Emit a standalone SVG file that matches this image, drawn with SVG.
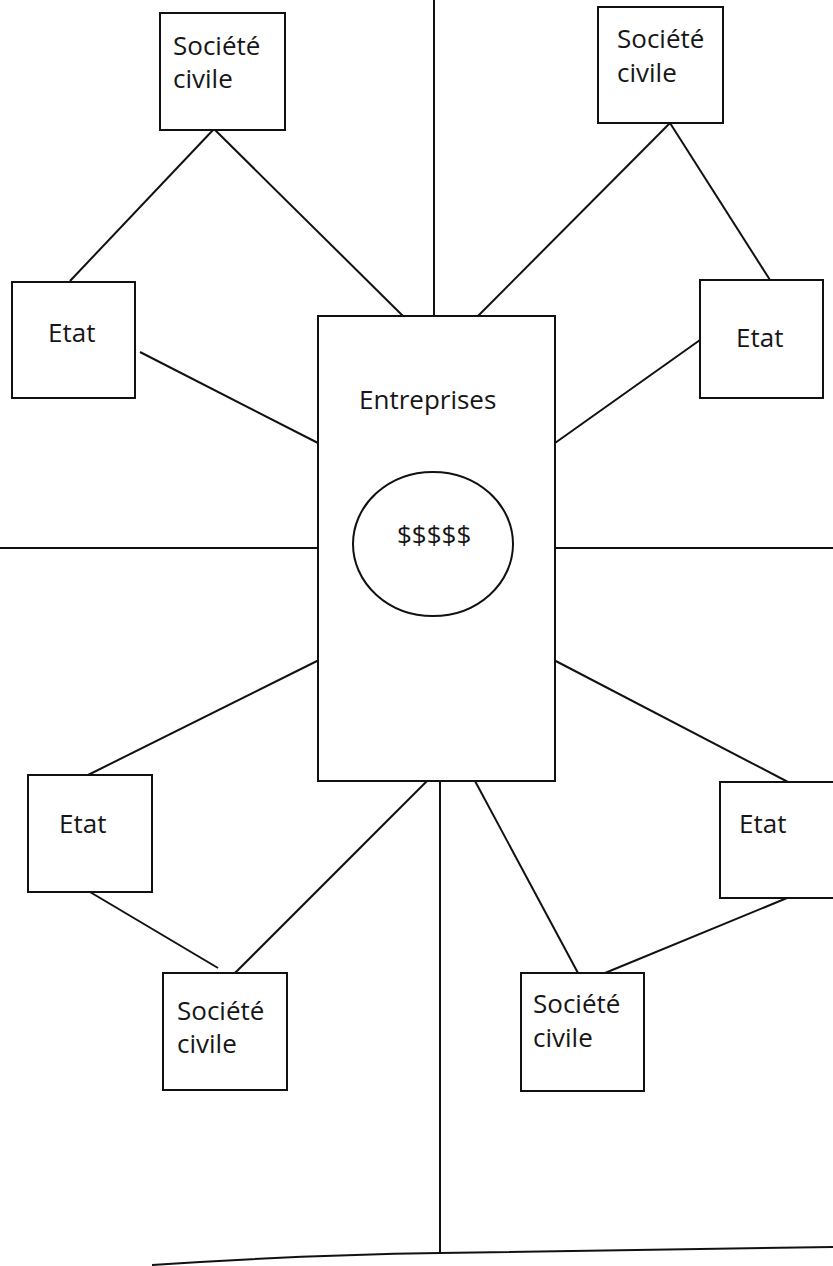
<svg xmlns="http://www.w3.org/2000/svg" width="833" height="1266" viewBox="0 0 833 1266">
<style>
.box{fill:#fff;stroke:#111;stroke-width:2}
.ln{fill:none;stroke:#111;stroke-width:2}
.t{font-family:"Open Sans","Liberation Sans",sans-serif;font-size:26px;fill:#161616}
</style>
<rect width="833" height="1266" fill="#fff"/>
<g id="connectors">
<line class="ln" x1="434" y1="0" x2="434" y2="316"/>
<line class="ln" x1="0" y1="548" x2="318" y2="548"/>
<line class="ln" x1="555" y1="548" x2="833" y2="548"/>
<line class="ln" x1="440" y1="781" x2="440" y2="1253"/>
<path class="ln" d="M152,1265 Q300,1255 440,1253 T833,1247"/>
<line class="ln" x1="210" y1="125" x2="403" y2="316"/>
<line class="ln" x1="213" y1="130" x2="70" y2="281"/>
<line class="ln" x1="140" y1="352" x2="318" y2="443"/>
<line class="ln" x1="670" y1="123" x2="478" y2="316"/>
<line class="ln" x1="670" y1="123" x2="770" y2="280"/>
<line class="ln" x1="700" y1="340" x2="555" y2="443"/>
<line class="ln" x1="319" y1="660" x2="88" y2="775"/>
<line class="ln" x1="90" y1="892" x2="218" y2="968"/>
<line class="ln" x1="235" y1="973" x2="427" y2="781"/>
<line class="ln" x1="550" y1="658" x2="788" y2="782"/>
<line class="ln" x1="475" y1="781" x2="578" y2="973"/>
<line class="ln" x1="787" y1="898" x2="605" y2="973"/>
</g>
<g id="entreprises">
<rect class="box" x="318" y="316" width="237" height="465"/>
<text class="t" x="359" y="409" font-size="25.5">Entreprises</text>
<ellipse class="ln" cx="433" cy="544" rx="80" ry="72"/>
<text class="t" x="397" y="544" font-size="29">$$$$$</text>
</g>
<g id="societe-tl">
<rect class="box" x="160" y="13" width="125" height="117"/>
<text class="t" x="173" y="55">Société</text>
<text class="t" x="173" y="88">civile</text>
</g>
<g id="etat-tl">
<rect class="box" x="12" y="282" width="123" height="116"/>
<text class="t" x="48" y="342">Etat</text>
</g>
<g id="societe-tr">
<rect class="box" x="598" y="7" width="125" height="116"/>
<text class="t" x="617" y="48">Société</text>
<text class="t" x="617" y="82">civile</text>
</g>
<g id="etat-tr">
<rect class="box" x="700" y="280" width="123" height="118"/>
<text class="t" x="736" y="347">Etat</text>
</g>
<g id="etat-bl">
<rect class="box" x="28" y="775" width="124" height="117"/>
<text class="t" x="59" y="833">Etat</text>
</g>
<g id="societe-bl">
<rect class="box" x="163" y="973" width="124" height="117"/>
<text class="t" x="177" y="1020">Société</text>
<text class="t" x="177" y="1053">civile</text>
</g>
<g id="etat-br">
<rect class="box" x="720" y="782" width="120" height="116"/>
<text class="t" x="739" y="833">Etat</text>
</g>
<g id="societe-br">
<rect class="box" x="521" y="973" width="123" height="118"/>
<text class="t" x="533" y="1013">Société</text>
<text class="t" x="533" y="1047">civile</text>
</g>
</svg>
